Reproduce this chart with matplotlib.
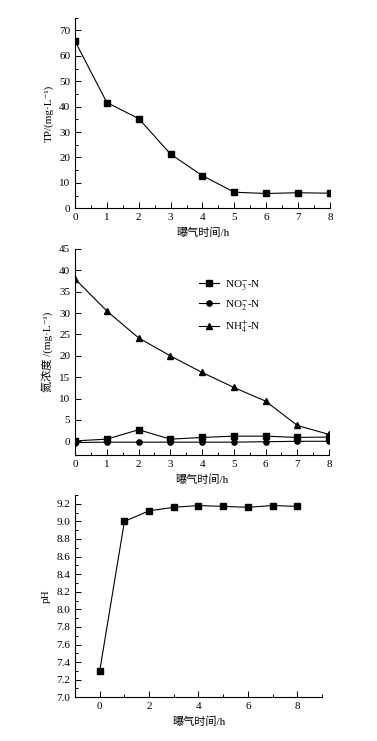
import numpy as np
import matplotlib
matplotlib.use("Agg")
from matplotlib import pyplot as plt
from matplotlib.ticker import MultipleLocator, FormatStrFormatter

plt.rcParams['font.family'] = ['Liberation Serif', 'Noto Sans CJK SC', 'DejaVu Serif']
plt.rcParams['mathtext.fontset'] = 'stix'
plt.rcParams['font.size'] = 8

# data
hours = [0, 1, 2, 3, 4, 5, 6, 7, 8]
tp = [65.8, 41.6, 35.3, 21.3, 12.8, 6.3, 5.8, 6.1, 5.9]
no3 = [0.1, 0.5, 2.7, 0.5, 0.9, 1.2, 1.2, 0.9, 1.0]
no2 = [-0.3, -0.2, -0.2, -0.2, -0.2, -0.2, -0.1, 0.0, 0.0]
nh4 = [38.0, 30.5, 24.2, 20.0, 16.1, 12.6, 9.4, 3.7, 1.6]
ph = [7.3, 9.0, 9.12, 9.16, 9.18, 9.17, 9.16, 9.18, 9.17]
xlab = "曝气时间/h"

fig = plt.figure(figsize=(3.77, 7.41), dpi=100)


def style(ax):
    for s in ['top', 'right']:
        ax.spines[s].set_visible(False)
    for s in ['left', 'bottom']:
        ax.spines[s].set_linewidth(0.8)
    ax.tick_params(which='both', direction='in', width=0.7)
    ax.tick_params(which='major', length=4)
    ax.tick_params(which='minor', length=2.5)


kw = dict(color='black', lw=0.8, ms=3.8)

# top panel: TP
ax1 = fig.add_axes([0.199, 0.719, 0.676, 0.257])
ax1.plot(hours, tp, marker='s', **kw)
ax1.set_xlim(0, 8)
ax1.set_ylim(0, 75)
ax1.xaxis.set_major_locator(MultipleLocator(1))
ax1.xaxis.set_minor_locator(MultipleLocator(0.5))
ax1.yaxis.set_major_locator(MultipleLocator(10))
ax1.yaxis.set_minor_locator(MultipleLocator(5))
ax1.set_xlabel(xlab)
ax1.set_ylabel("TP/(mg·L⁻¹)")
style(ax1)

# middle panel: nitrogen
ax2 = fig.add_axes([0.199, 0.386, 0.674, 0.278])
ax2.plot(hours, no3, marker='s', label=r"NO$_3^{-}$-N", **kw)
ax2.plot(hours, no2, marker='o', label=r"NO$_2^{-}$-N", **kw)
ax2.plot(hours, nh4, marker='^', label=r"NH$_4^{+}$-N", **kw)
ax2.set_xlim(0, 8)
ax2.set_ylim(-3.2, 45)
ax2.xaxis.set_major_locator(MultipleLocator(1))
ax2.xaxis.set_minor_locator(MultipleLocator(0.5))
ax2.yaxis.set_major_locator(MultipleLocator(5))
ax2.set_xlabel(xlab)
ax2.set_ylabel("氮浓度 /(mg·L⁻¹)")
ax2.legend(loc='upper left', bbox_to_anchor=(0.45, 0.91), frameon=False,
           handlelength=1.8, handletextpad=0.5, labelspacing=0.6, fontsize=8)
style(ax2)

# bottom panel: pH
ax3 = fig.add_axes([0.199, 0.059, 0.655, 0.273])
ax3.plot(hours, ph, marker='s', **kw)
ax3.set_xlim(-1, 9)
ax3.set_ylim(7.0, 9.3)
ax3.xaxis.set_major_locator(MultipleLocator(2))
ax3.xaxis.set_minor_locator(MultipleLocator(1))
ax3.yaxis.set_major_locator(MultipleLocator(0.2))
ax3.yaxis.set_minor_locator(MultipleLocator(0.1))
ax3.yaxis.set_major_formatter(FormatStrFormatter('%.1f'))
ax3.set_xlabel(xlab)
ax3.set_ylabel("pH")
style(ax3)

fig.savefig("out.png", dpi=100)
